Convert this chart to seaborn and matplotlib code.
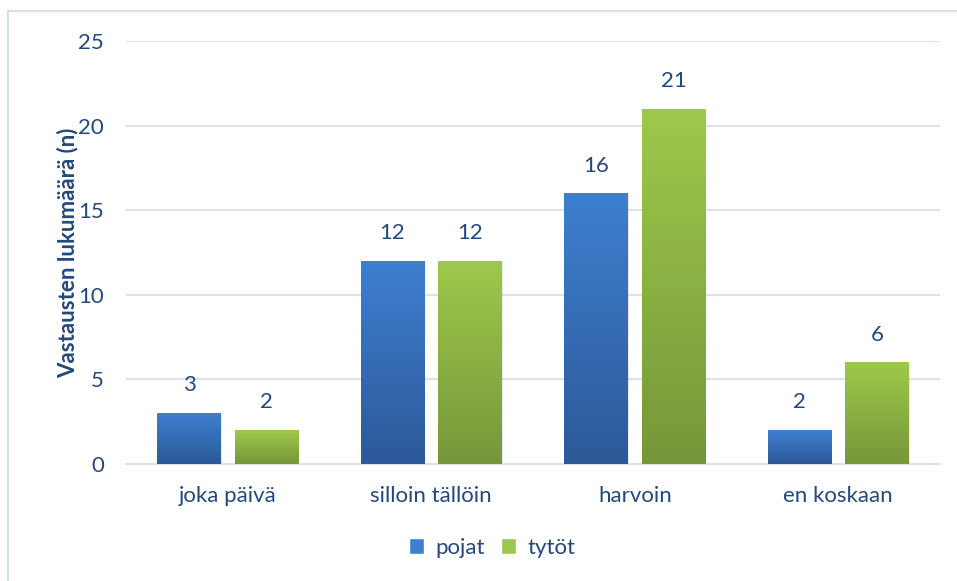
import numpy as np
import pandas as pd
import matplotlib
matplotlib.use("Agg")
import matplotlib.pyplot as plt
import seaborn as sns
from matplotlib.colors import LinearSegmentedColormap
from matplotlib.patches import Rectangle, Patch

categories = ["joka päivä", "silloin tällöin", "harvoin", "en koskaan"]
pojat = [3, 12, 16, 2]
tytot = [2, 12, 21, 6]
series = ["pojat", "tytöt"]
yticks = [0, 5, 10, 15, 20, 25]

text_color = "#24487A"
grid_color = "#D9E3F1"
gradients = {
    "pojat": ("#2C5998", "#3E7FD0"),
    "tytöt": ("#76973A", "#9DC94B"),
}

df = pd.DataFrame({
    "kategoria": categories * 2,
    "ryhmä": ["pojat"] * len(categories) + ["tytöt"] * len(categories),
    "n": pojat + tytot,
})

sns.set_style("white")
plt.rcParams["font.family"] = ["Lato", "DejaVu Sans"]
fs = 16

fig = plt.figure(figsize=(9.57, 5.81), dpi=100)
ax = fig.add_axes([126 / 957, 1 - 464 / 581, (940 - 126) / 957, (464 - 41) / 581])

# chart frame
fig.patches.append(Rectangle((8 / 957, -0.05), 1.0, 1 - 11 / 581 + 0.05,
                             transform=fig.transFigure, fill=False,
                             edgecolor="#D3E0F2", linewidth=1.5))

sns.barplot(data=df, x="kategoria", y="n", hue="ryhmä", order=categories,
            hue_order=series, width=0.762, gap=0.186, palette=["#3A70B8", "#8AB443"],
            legend=False, ax=ax, zorder=3)

# gradient fill for each bar
grad = np.linspace(0, 1, 256).reshape(-1, 1)
for cont, name in zip(ax.containers, series):
    cmap = LinearSegmentedColormap.from_list(name, gradients[name])
    for bar in cont:
        x, w, h = bar.get_x(), bar.get_width(), bar.get_height()
        bar.set_facecolor("none")
        bar.set_edgecolor("none")
        shadow = Rectangle((x + 0.006, -0.12), w, h + 0.04, facecolor="#000000",
                           alpha=0.08, edgecolor="none", zorder=2)
        ax.add_patch(shadow)
        im = ax.imshow(grad, extent=[x, x + w, 0, h], origin="lower",
                       aspect="auto", cmap=cmap, zorder=3)
        im.set_clip_path(bar)
        ax.text(x + w / 2, h + 1.05, str(int(h)), ha="center", va="bottom",
                fontsize=fs, color=text_color)

ax.set_xlim(-0.5, len(categories) - 0.5)
ax.set_ylim(0, 25)
ax.set_yticks(yticks)
ax.yaxis.grid(True, color=grid_color, linewidth=1.5, zorder=0)
ax.set_axisbelow(True)
for s in ["top", "right", "left"]:
    ax.spines[s].set_visible(False)
ax.spines["bottom"].set_color(grid_color)
ax.spines["bottom"].set_linewidth(1.5)
ax.tick_params(axis="y", length=0, pad=16, labelsize=fs, labelcolor=text_color)
ax.tick_params(axis="x", length=0, pad=16, labelsize=fs, labelcolor=text_color)
ax.set_xlabel("")
ax.set_ylabel("Vastausten lukumäärä (n)", fontsize=fs, fontweight="bold",
              color=text_color, labelpad=0)

handles = [Patch(facecolor=gradients[s][1], label=s) for s in series]
fig.legend(handles=handles, loc="center", bbox_to_anchor=(492 / 957, 1 - 548 / 581),
           ncol=2, frameon=False, fontsize=fs, labelcolor=text_color,
           handlelength=0.7, handleheight=0.7, handletextpad=0.5, columnspacing=0.7)

plt.savefig("out.png", dpi=100)
plt.close()
